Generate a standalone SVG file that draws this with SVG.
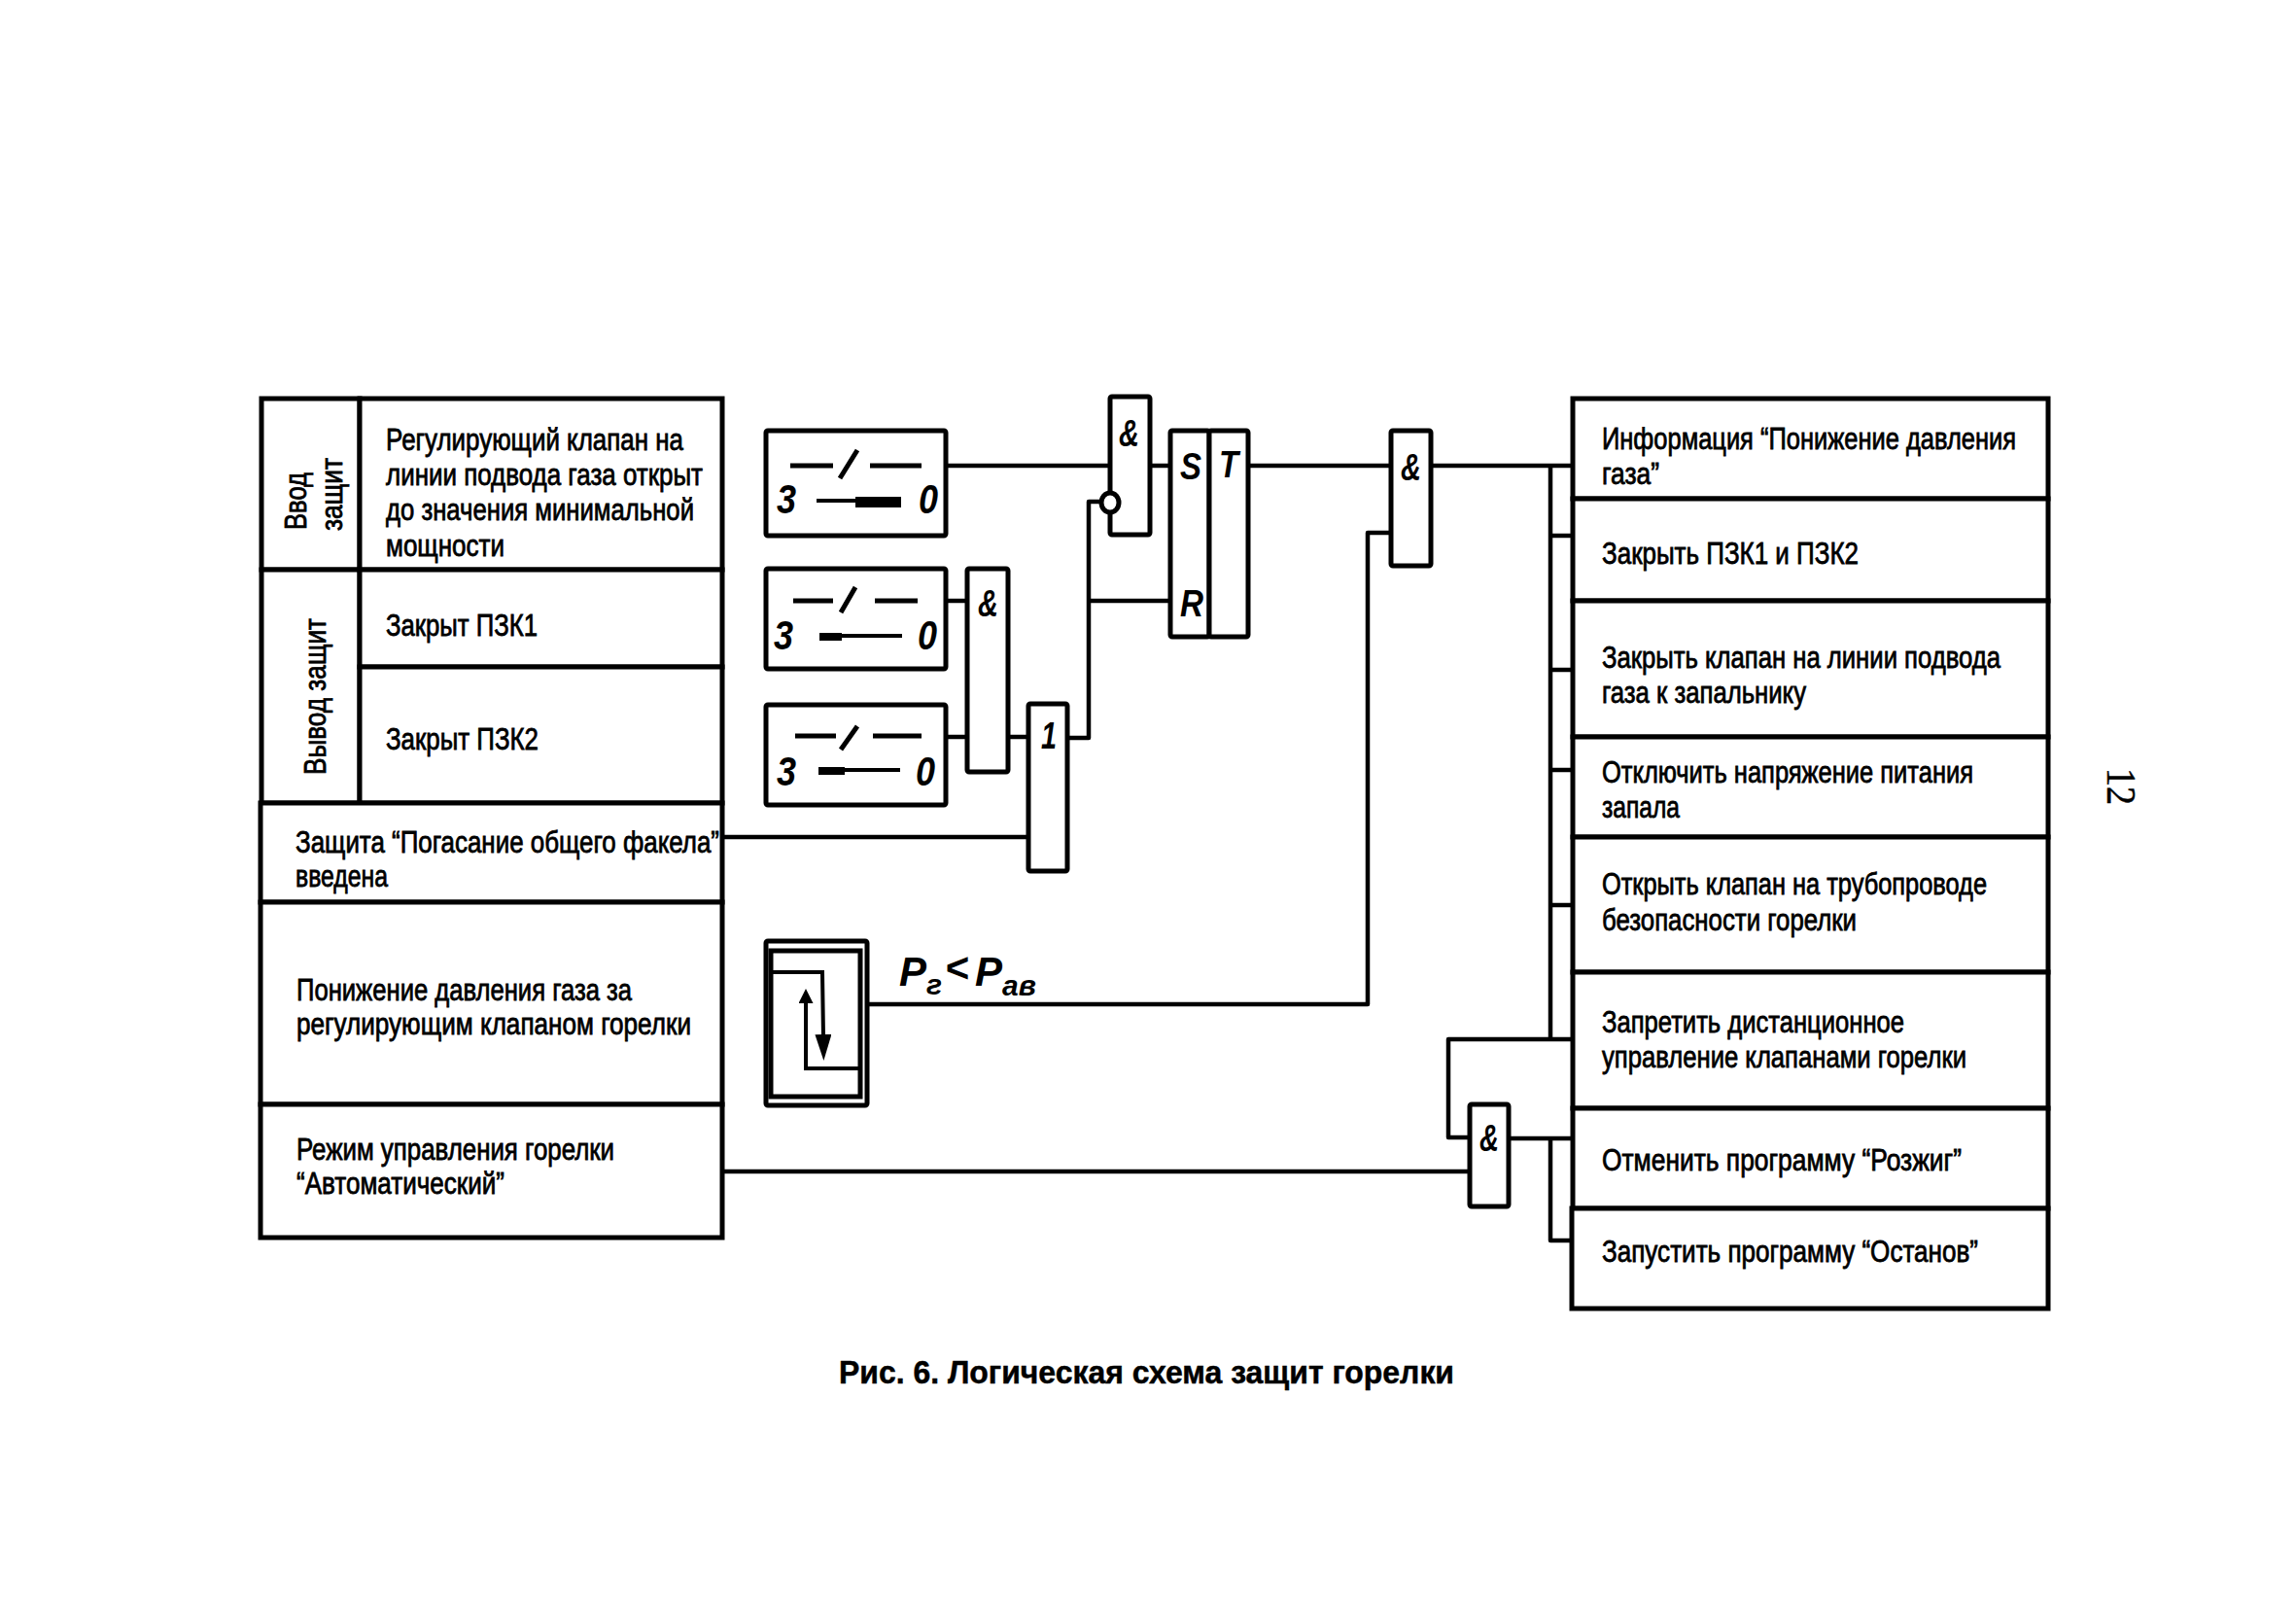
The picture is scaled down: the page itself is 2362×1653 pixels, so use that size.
<svg xmlns="http://www.w3.org/2000/svg" width="2362" height="1653" viewBox="0 0 2362 1653">
<style>
.bg{fill:#fff}
.cell{fill:#fff;stroke:#000;stroke-width:5}
.box{fill:#fff;stroke:#000;stroke-width:5}
.thin{fill:none;stroke:#000;stroke-width:4}
.wire{fill:none;stroke:#000;stroke-width:4.5;stroke-linejoin:round}
.t{font-family:"Liberation Sans",Arial,sans-serif;font-size:31px;fill:#000;stroke:#000;stroke-width:.8}
.g{font-family:"Liberation Sans",Arial,sans-serif;font-size:38px;font-weight:bold;font-style:italic;fill:#000}
.sw{font-family:"Liberation Sans",Arial,sans-serif;font-size:42px;font-weight:bold;font-style:italic;fill:#000}
.cap{font-family:"Liberation Sans",Arial,sans-serif;font-size:33px;font-weight:bold;fill:#000;stroke:#000;stroke-width:.5}
.num{font-family:"Liberation Serif","Times New Roman",serif;font-size:42px;fill:#000;stroke:#000;stroke-width:.5}
.p{font-family:"Liberation Sans",Arial,sans-serif;font-size:42px;font-style:italic;font-weight:bold;fill:#000}
.ps{font-size:30px}
</style>
<defs>
<marker id="ah" markerUnits="userSpaceOnUse" markerWidth="30" markerHeight="18" refX="2" refY="8.5" orient="auto">
<path d="M0 0L27 8.5L0 17Z" fill="#000"/>
</marker>
<marker id="ahu" markerUnits="userSpaceOnUse" markerWidth="16" markerHeight="16" refX="2" refY="7.5" orient="auto">
<path d="M0 0L15 7.5L0 15Z" fill="#000"/>
</marker>
</defs>
<rect class="bg" x="0" y="0" width="2362" height="1653"/>

<g id="connectors">
<path class="wire" d="M973 479H1141"/>
<path class="wire" d="M1182 479H1203"/>
<path class="wire" d="M1283 479H1431"/>
<path class="wire" d="M1472 479H1618"/>
<path class="wire" d="M1132 516H1120V759H1097"/>
<path class="wire" d="M1120 618H1203"/>
<path class="wire" d="M973 618H994"/>
<path class="wire" d="M973 758H994"/>
<path class="wire" d="M1037 758H1057"/>
<path class="wire" d="M743 861H1057"/>
<path class="wire" d="M892 1033H1407V548H1431"/>
<path class="wire" d="M743 1205H1512"/>
<path class="wire" d="M1618 1069H1490V1170H1512"/>
<path class="wire" d="M1552 1171H1618"/>
<path class="wire" d="M1595 479V1069"/>
<path class="wire" d="M1595 1171V1276H1618"/>
<path class="wire" d="M1595 551H1618"/>
<path class="wire" d="M1595 689H1618"/>
<path class="wire" d="M1595 792H1618"/>
<path class="wire" d="M1595 931H1618"/>
</g>

<g id="cell-vvod">
<rect class="cell" x="269" y="410" width="101" height="176"/>
<text class="t" transform="translate(315 545) rotate(-90)" textLength="59" lengthAdjust="spacingAndGlyphs">Ввод</text>
<text class="t" transform="translate(352 546) rotate(-90)" textLength="75" lengthAdjust="spacingAndGlyphs">защит</text>
</g>
<g id="cell-vyvod">
<rect class="cell" x="269" y="586" width="101" height="240"/>
<text class="t" transform="translate(335 797) rotate(-90)" textLength="161" lengthAdjust="spacingAndGlyphs">Вывод защит</text>
</g>
<g id="cell-klapan">
<rect class="cell" x="370" y="410" width="373" height="176"/>
<text class="t" x="397" y="463" textLength="306" lengthAdjust="spacingAndGlyphs">Регулирующий клапан на</text>
<text class="t" x="397" y="499" textLength="326" lengthAdjust="spacingAndGlyphs">линии подвода газа открыт</text>
<text class="t" x="397" y="535" textLength="317" lengthAdjust="spacingAndGlyphs">до значения минимальной</text>
<text class="t" x="397" y="572" textLength="122" lengthAdjust="spacingAndGlyphs">мощности</text>
</g>
<g id="cell-pzk1">
<rect class="cell" x="370" y="586" width="373" height="100"/>
<text class="t" x="397" y="654" textLength="156" lengthAdjust="spacingAndGlyphs">Закрыт ПЗК1</text>
</g>
<g id="cell-pzk2">
<rect class="cell" x="370" y="686" width="373" height="140"/>
<text class="t" x="397" y="771" textLength="157" lengthAdjust="spacingAndGlyphs">Закрыт ПЗК2</text>
</g>
<g id="cell-fakel">
<rect class="cell" x="268" y="826" width="475" height="102"/>
<text class="t" x="304" y="877" textLength="436" lengthAdjust="spacingAndGlyphs">Защита “Погасание общего факела”</text>
<text class="t" x="304" y="912" textLength="95" lengthAdjust="spacingAndGlyphs">введена</text>
</g>
<g id="cell-davlenie">
<rect class="cell" x="268" y="928" width="475" height="208"/>
<text class="t" x="305" y="1029" textLength="345" lengthAdjust="spacingAndGlyphs">Понижение давления газа за</text>
<text class="t" x="305" y="1064" textLength="406" lengthAdjust="spacingAndGlyphs">регулирующим клапаном горелки</text>
</g>
<g id="cell-rezhim">
<rect class="cell" x="268" y="1136" width="475" height="137"/>
<text class="t" x="305" y="1193" textLength="327" lengthAdjust="spacingAndGlyphs">Режим управления горелки</text>
<text class="t" x="305" y="1228" textLength="214" lengthAdjust="spacingAndGlyphs">“Автоматический”</text>
</g>

<g id="switch-1">
<rect class="box" x="788" y="443" width="185" height="108" rx="2"/>
<path class="thin" d="M813 479H857M895 479H948M882 463L864 492" style="stroke-width:5"/>
<path class="thin" d="M840 515H880"/>
<path d="M880 511H927V522H880Z" fill="#000"/>
<text class="sw" x="799" y="528" textLength="20" lengthAdjust="spacingAndGlyphs">3</text>
<text class="sw" x="945" y="528" textLength="20" lengthAdjust="spacingAndGlyphs">0</text>
</g>
<g id="switch-2">
<rect class="box" x="788" y="585" width="185" height="103" rx="2"/>
<path class="thin" d="M816 618H857M900 618H944M880 604L865 630" style="stroke-width:5"/>
<path class="thin" d="M860 654H928"/>
<path d="M843 651H866V659H843Z" fill="#000"/>
<text class="sw" x="796" y="668" textLength="20" lengthAdjust="spacingAndGlyphs">3</text>
<text class="sw" x="944" y="668" textLength="20" lengthAdjust="spacingAndGlyphs">0</text>
</g>
<g id="switch-3">
<rect class="box" x="788" y="725" width="185" height="103" rx="2"/>
<path class="thin" d="M818 757H860M898 757H948M882 747L865 771" style="stroke-width:5"/>
<path class="thin" d="M865 792H926"/>
<path d="M842 789H869V797H842Z" fill="#000"/>
<text class="sw" x="799" y="808" textLength="20" lengthAdjust="spacingAndGlyphs">3</text>
<text class="sw" x="942" y="808" textLength="20" lengthAdjust="spacingAndGlyphs">0</text>
</g>

<g id="gate-and-3">
<rect class="box" x="995" y="585" width="42" height="209" rx="2"/>
<text class="g" x="1006" y="634" textLength="21" lengthAdjust="spacingAndGlyphs">&amp;</text>
</g>
<g id="gate-or">
<rect class="box" x="1058" y="724" width="40" height="172" rx="2"/>
<text class="g" x="1071" y="770" textLength="16" lengthAdjust="spacingAndGlyphs">1</text>
</g>
<g id="gate-and-1">
<rect class="box" x="1142" y="408" width="41" height="142" rx="2"/>
<text class="g" x="1151" y="459" textLength="21" lengthAdjust="spacingAndGlyphs">&amp;</text>
<ellipse cx="1142" cy="517" rx="9" ry="10" fill="#fff" stroke="#000" stroke-width="5"/>
</g>
<g id="trigger">
<rect class="box" x="1204" y="443" width="40" height="212" rx="2"/>
<rect class="box" x="1244" y="443" width="40" height="212" rx="2"/>
<text class="g" x="1214" y="493" textLength="22" lengthAdjust="spacingAndGlyphs">S</text>
<text class="g" x="1254" y="491" textLength="20" lengthAdjust="spacingAndGlyphs">T</text>
<text class="g" x="1214" y="634" textLength="24" lengthAdjust="spacingAndGlyphs">R</text>
</g>
<g id="gate-and-2">
<rect class="box" x="1431" y="443" width="41" height="139" rx="2"/>
<text class="g" x="1441" y="494" textLength="21" lengthAdjust="spacingAndGlyphs">&amp;</text>
</g>
<g id="gate-and-4">
<rect class="box" x="1512" y="1136" width="40" height="105" rx="2"/>
<text class="g" x="1522" y="1184" textLength="20" lengthAdjust="spacingAndGlyphs">&amp;</text>
</g>

<g id="sensor">
<rect class="box" x="788" y="968" width="104" height="169" rx="2"/>
<rect class="thin" x="793" y="978" width="92" height="150" style="stroke-width:5"/>
<path class="thin" d="M793 1000H846L847 1066" marker-end="url(#ah)"/>
<path class="thin" d="M885 1099H829V1030" marker-end="url(#ahu)"/>
</g>
<text id="label-p" class="p" x="925" y="1014">P<tspan class="ps" dy="9">г</tspan><tspan x="972" dy="-13">&lt;</tspan><tspan x="1003" dy="4">P</tspan><tspan class="ps" dy="10">ав</tspan></text>

<g id="out-1">
<rect class="cell" x="1618" y="410" width="489" height="103"/>
<text class="t" x="1648" y="462" textLength="426" lengthAdjust="spacingAndGlyphs">Информация “Понижение давления</text>
<text class="t" x="1648" y="498" textLength="59" lengthAdjust="spacingAndGlyphs">газа”</text>
</g>
<g id="out-2">
<rect class="cell" x="1618" y="513" width="489" height="105"/>
<text class="t" x="1648" y="580" textLength="264" lengthAdjust="spacingAndGlyphs">Закрыть ПЗК1 и ПЗК2</text>
</g>
<g id="out-3">
<rect class="cell" x="1618" y="618" width="489" height="140"/>
<text class="t" x="1648" y="687" textLength="410" lengthAdjust="spacingAndGlyphs">Закрыть клапан на линии подвода</text>
<text class="t" x="1648" y="723" textLength="210" lengthAdjust="spacingAndGlyphs">газа к запальнику</text>
</g>
<g id="out-4">
<rect class="cell" x="1618" y="758" width="489" height="103"/>
<text class="t" x="1648" y="805" textLength="382" lengthAdjust="spacingAndGlyphs">Отключить напряжение питания</text>
<text class="t" x="1648" y="841" textLength="80" lengthAdjust="spacingAndGlyphs">запала</text>
</g>
<g id="out-5">
<rect class="cell" x="1618" y="861" width="489" height="139"/>
<text class="t" x="1648" y="920" textLength="396" lengthAdjust="spacingAndGlyphs">Открыть клапан на трубопроводе</text>
<text class="t" x="1648" y="957" textLength="262" lengthAdjust="spacingAndGlyphs">безопасности горелки</text>
</g>
<g id="out-6">
<rect class="cell" x="1618" y="1000" width="489" height="140"/>
<text class="t" x="1648" y="1062" textLength="311" lengthAdjust="spacingAndGlyphs">Запретить дистанционное</text>
<text class="t" x="1648" y="1098" textLength="375" lengthAdjust="spacingAndGlyphs">управление клапанами горелки</text>
</g>
<g id="out-7">
<rect class="cell" x="1618" y="1140" width="489" height="103"/>
<text class="t" x="1648" y="1204" textLength="370" lengthAdjust="spacingAndGlyphs">Отменить программу “Розжиг”</text>
</g>
<g id="out-8">
<rect class="cell" x="1617" y="1243" width="490" height="103"/>
<text class="t" x="1648" y="1298" textLength="387" lengthAdjust="spacingAndGlyphs">Запустить программу “Останов”</text>
</g>

<text class="cap" x="863" y="1423" textLength="633" lengthAdjust="spacingAndGlyphs">Рис. 6. Логическая схема защит горелки</text>
<text class="num" transform="translate(2168 790) rotate(90)" textLength="38" lengthAdjust="spacingAndGlyphs">12</text>
</svg>
